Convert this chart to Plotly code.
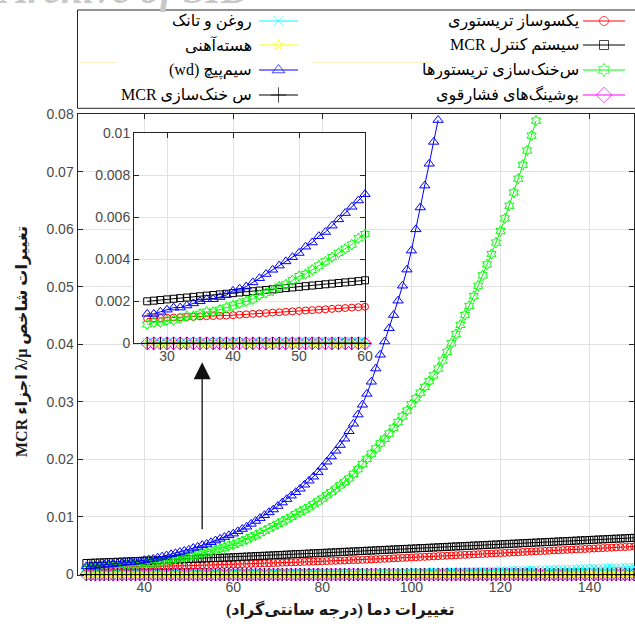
import plotly.graph_objects as go

W, H = 635, 628

# ---------------- data ----------------
temp = list(range(27, 151))  # temperature (deg C)

red = [
    .00118, .00119, .00120, .00122, .00123, .00124, .00125, .00126, .00128, .00129,
    .00130, .00131, .00132, .00134, .00136, .00138, .00140, .00142, .00144, .00146,
    .00148, .00150, .00152, .00154, .00156, .00158, .00160, .00162, .00164, .00166,
    .00168, .00170, .00172, .00174, .00177, .00180, .00182, .00185, .00188, .00191,
    .00194, .00196, .00199, .00202, .00205, .00208, .00210, .00213, .00216, .00219,
    .00222, .00224, .00227, .00230, .00233, .00236, .00238, .00241, .00244, .00247,
    .00250, .00252, .00255, .00258, .00262, .00266, .00269, .00273, .00277, .00281,
    .00285, .00288, .00292, .00296, .00300, .00304, .00307, .00311, .00315, .00319,
    .00323, .00326, .00330, .00334, .00338, .00342, .00345, .00349, .00353, .00357,
    .00361, .00364, .00368, .00372, .00376, .00380, .00383, .00387, .00391, .00395,
    .00399, .00402, .00406, .00410, .00414, .00418, .00421, .00425, .00429, .00433,
    .00437, .00440, .00444, .00448, .00452, .00456, .00459, .00463, .00467, .00471,
    .00475, .00478, .00482, .00486,
]

black_sq = [
    .00200, .00203, .00206, .00209, .00212, .00215, .00218, .00221, .00224, .00227,
    .00230, .00233, .00236, .00239, .00242, .00245, .00248, .00251, .00254, .00257,
    .00260, .00263, .00266, .00269, .00272, .00275, .00278, .00281, .00284, .00287,
    .00290, .00293, .00296, .00300, .00304, .00308, .00311, .00315, .00319, .00323,
    .00326, .00330, .00334, .00338, .00341, .00345, .00349, .00353, .00356, .00360,
    .00364, .00368, .00371, .00375, .00379, .00383, .00386, .00390, .00394, .00398,
    .00401, .00405, .00409, .00413, .00416, .00420, .00424, .00428, .00431, .00435,
    .00439, .00443, .00446, .00450, .00454, .00458, .00461, .00465, .00469, .00473,
    .00476, .00480, .00484, .00488, .00491, .00495, .00499, .00503, .00506, .00510,
    .00514, .00518, .00521, .00525, .00529, .00533, .00536, .00540, .00544, .00548,
    .00551, .00555, .00559, .00563, .00566, .00570, .00574, .00578, .00581, .00585,
    .00589, .00593, .00596, .00600, .00604, .00608, .00611, .00615, .00619, .00623,
    .00626, .00630, .00634, .00638,
]

green = [
    .0009, .0010, .0010, .0011, .0011, .0012, .0013, .0013, .0014, .0015,
    .0015, .0016, .0017, .0018, .0019, .0020, .0021, .0023, .0024, .0025,
    .0027, .0028, .0030, .0032, .0033, .0035, .0037, .0039, .0041, .0043,
    .0045, .0047, .0050, .0052, .0055, .0058, .0061, .0065, .0068, .0072,
    .0076, .0080, .0084, .0088, .0092, .0096, .0100, .0105, .0109, .0113,
    .0117, .0122, .0127, .0132, .0138, .0143, .0149, .0155, .0161, .0167,
    .0175, .0183, .0192, .0201, .0210, .0219, .0228, .0236, .0245, .0255,
    .0265, .0275, .0285, .0296, .0306, .0316, .0326, .0336, .0346, .0358,
    .0372, .0387, .0402, .0418, .0434, .0451, .0467, .0484, .0502, .0520,
    .0539, .0557, .0577, .0597, .0619, .0641, .0664, .0688, .0712, .0737,
    .0763, .0789,
]

magenta = [
    0.0, 0.0, 0.0, 0.0, 0.0, 0.0, 0.0, 0.0, 0.0, 0.0,
    0.0, 0.0, 0.0, 0.0, 0.0, 0.0, 0.0, 0.0, 0.0, 0.0,
    0.0, 0.0, 0.0, 0.0, 0.0, 0.0, 0.0, 0.0, 0.0, 0.0,
    0.0, 0.0, 0.0, 0.0, 0.0, 0.0, 0.0, 0.0, 0.0, 0.0,
    0.0, 0.0, 0.0, 0.0, 0.0, 0.0, 0.0, 0.0, 0.0, 0.0,
    0.0, 0.0, 0.0, 0.0, 0.0, 0.0, 0.0, 0.0, 0.0, 0.0,
    0.0, 0.0, 0.0, 0.0, 0.0, 0.0, 0.0, 0.0, 0.0, 0.0,
    0.0, 0.0, 0.0, 0.0, 0.0, 0.0, 0.0, 0.0, 0.0, 0.0,
    0.0, 0.0, 0.0, 0.0, 0.0, 0.0, 0.0, 0.0, 0.0, 0.0,
    0.0, 0.0, 0.0, 0.0, 0.0, 0.0, 0.0, 0.0, 0.0, 0.0,
    0.0, 0.0, 0.0, 0.0, 0.0, 0.0, 0.0, 0.0, 0.0, 0.0,
    0.0, 0.0, 0.0, 0.0, 0.0, 0.0, 0.0, 0.0, 0.0, 0.0,
    0.0, 0.0, 0.0, 0.0,
]

cyan = [
    .00005, .00005, .00005, .00005, .00005, .00005, .00005, .00006, .00006, .00006,
    .00006, .00006, .00006, .00007, .00007, .00007, .00007, .00007, .00008, .00008,
    .00008, .00008, .00008, .00009, .00009, .00009, .00009, .00010, .00010, .00010,
    .00010, .00011, .00011, .00011, .00012, .00012, .00012, .00013, .00013, .00013,
    .00014, .00014, .00014, .00015, .00015, .00016, .00016, .00017, .00017, .00018,
    .00019, .00019, .00020, .00021, .00021, .00022, .00023, .00024, .00024, .00025,
    .00026, .00027, .00028, .00029, .00030, .00031, .00032, .00033, .00034, .00035,
    .00036, .00037, .00039, .00040, .00041, .00042, .00044, .00045, .00046, .00048,
    .00049, .00050, .00052, .00053, .00055, .00056, .00058, .00059, .00061, .00062,
    .00064, .00066, .00067, .00069, .00071, .00072, .00074, .00076, .00078, .00080,
    .00081, .00083, .00085, .00087, .00089, .00091, .00093, .00095, .00097, .00099,
    .00101, .00104, .00106, .00108, .00110, .00112, .00115, .00117, .00119, .00122,
    .00124, .00126, .00129, .00131,
]

yellow = [
    .00001, .00001, .00001, .00001, .00001, .00001, .00001, .00001, .00001, .00001,
    .00001, .00001, .00001, .00001, .00001, .00001, .00001, .00001, .00001, .00001,
    .00001, .00001, .00001, .00001, .00001, .00001, .00001, .00001, .00001, .00001,
    .00001, .00001, .00001, .00001, .00001, .00001, .00001, .00001, .00001, .00001,
    .00001, .00001, .00001, .00001, .00001, .00001, .00001, .00001, .00001, .00001,
    .00001, .00001, .00001, .00001, .00001, .00001, .00001, .00001, .00001, .00001,
    .00002, .00002, .00002, .00002, .00002, .00002, .00002, .00002, .00002, .00002,
    .00002, .00002, .00002, .00002, .00002, .00002, .00002, .00002, .00002, .00002,
    .00002, .00002, .00002, .00002, .00002, .00002, .00002, .00002, .00002, .00002,
    .00002, .00002, .00002, .00002, .00002, .00002, .00002, .00002, .00002, .00002,
    .00003, .00003, .00003, .00003, .00003, .00003, .00003, .00003, .00003, .00003,
    .00003, .00003, .00003, .00003, .00003, .00003, .00003, .00003, .00003, .00003,
    .00003, .00003, .00003, .00003,
]

blue = [
    .0014, .0014, .0015, .0016, .0017, .0017, .0018, .0019, .0020, .0021,
    .0021, .0022, .0023, .0025, .0026, .0027, .0029, .0031, .0033, .0035,
    .0037, .0039, .0041, .0043, .0046, .0048, .0051, .0053, .0056, .0059,
    .0062, .0065, .0068, .0071, .0075, .0079, .0083, .0088, .0093, .0098,
    .0103, .0108, .0113, .0119, .0125, .0131, .0137, .0143, .0149, .0156,
    .0163, .0170, .0178, .0187, .0196, .0205, .0215, .0225, .0236, .0249,
    .0262, .0278, .0295, .0314, .0335, .0358, .0382, .0405, .0428, .0451,
    .0476, .0502, .0530, .0563, .0600, .0638, .0676, .0714, .0752, .0790,
]

black_plus = [
    0.0, 0.0, 0.0, 0.0, 0.0, 0.0, 0.0, 0.0, 0.0, 0.0,
    0.0, 0.0, 0.0, 0.0, 0.0, 0.0, 0.0, 0.0, 0.0, 0.0,
    0.0, 0.0, 0.0, 0.0, 0.0, 0.0, 0.0, 0.0, 0.0, 0.0,
    0.0, 0.0, 0.0, 0.0, 0.0, 0.0, 0.0, 0.0, 0.0, 0.0,
    0.0, 0.0, 0.0, 0.0, 0.0, 0.0, 0.0, 0.0, 0.0, 0.0,
    0.0, 0.0, 0.0, 0.0, 0.0, 0.0, 0.0, 0.0, 0.0, 0.0,
    0.0, 0.0, 0.0, 0.0, 0.0, 0.0, 0.0, 0.0, 0.0, 0.0,
    0.0, 0.0, 0.0, 0.0, 0.0, 0.0, 0.0, 0.0, 0.0, 0.0,
    0.0, 0.0, 0.0, 0.0, 0.0, 0.0, 0.0, 0.0, 0.0, 0.0,
    0.0, 0.0, 0.0, 0.0, 0.0, 0.0, 0.0, 0.0, 0.0, 0.0,
    0.0, 0.0, 0.0, 0.0, 0.0, 0.0, 0.0, 0.0, 0.0, 0.0,
    0.0, 0.0, 0.0, 0.0, 0.0, 0.0, 0.0, 0.0, 0.0, 0.0,
    0.0, 0.0, 0.0, 0.0,
]

series_names = [
    "یکسوساز تریستوری",
    "سیستم کنترل MCR",
    "س‌خنک‌سازی تریستورها",
    "بوشینگ‌های فشارقوی",
    "روغن و تانک",
    "هسته‌آهنی",
    "سیم‌پیچ (wd)",
    "س خنک‌سازی MCR",
]
series_values = [red, black_sq, green, magenta, cyan, yellow, blue, black_plus]

x_ticks_main = [40, 60, 80, 100, 120, 140]
x_ticks_inset = [30, 40, 50, 60]
inset_max_temp = 60

x_title = "تغییرات دما (درجه سانتی‌گراد)"
y_title = "تغییرات شاخص λ/μ اجزاء MCR"

# ---------------- styles ----------------
colors = ["#ff0000", "#000000", "#00ff00", "#ff00ff", "#00ffff", "#ffff00", "#0000ff", "#000000"]
symbols = ["circle-open", "square-open", "hexagram-open", "diamond-open",
           "x-thin-open", "star-open", "triangle-up-open", "cross-thin-open"]
sizes = [7, 7, 8, 10, 8, 6, 9, 9]

RLE, PDF = "\u202b", "\u202c"
def rtl(s):
    return RLE + s + PDF

AX = "#262626"
TICKFONT = dict(family="Liberation Sans, Arial, sans-serif", size=14, color="#4a4a4a")
TEXTFONT = "Liberation Serif, DejaVu Sans, serif"
GRID = "#e2e2e2"

fig = go.Figure()

def add_series(xa, ya, xs, ys, i):
    c = colors[i]
    fig.add_trace(go.Scatter(
        x=xs, y=ys, xaxis=xa, yaxis=ya, mode="lines+markers",
        line=dict(color=c, width=1),
        marker=dict(symbol=symbols[i], size=sizes[i], color=c, line=dict(color=c, width=1)),
        cliponaxis=False, showlegend=False, hoverinfo="skip"))

# main plot
for i, vals in enumerate(series_values):
    add_series("x", "y", temp[:len(vals)], vals, i)

# inset plot (zoom on the start of the range)
n_in = temp.index(inset_max_temp) + 1
for i, vals in enumerate(series_values):
    add_series("x2", "y2", temp[:n_in], vals[:n_in], i)

# ---------------- legend (drawn manually, RTL layout) ----------------
def py(p):  # pixel y -> paper
    return 1 - p / H

def px(p):
    return p / W

leg_rows = [21, 45, 70, 95]
leg_cols = [(583, 625, 581), (259, 298, 254)]  # line x0, x1, text right edge
for i, name in enumerate(series_names):
    col, row = divmod(i, 4)
    x0, x1, xt = leg_cols[col]
    r = leg_rows[row]
    c = colors[i]
    fig.add_trace(go.Scatter(
        x=[x0, (x0 + x1) / 2, x1], y=[r, r, r], xaxis="x3", yaxis="y3",
        mode="lines+markers", line=dict(color=c, width=1),
        marker=dict(symbol=symbols[i], size=[0, sizes[i] + 2, 0], color=c, line=dict(color=c, width=1)),
        cliponaxis=False, showlegend=False, hoverinfo="skip"))
    fig.add_annotation(x=xt, y=r, xref="x3", yref="y3", text=rtl(name), showarrow=False,
                       xanchor="right", yanchor="middle",
                       font=dict(family=TEXTFONT, size=16, color="#000000"))

shapes = [
    dict(type="rect", xref="paper", yref="paper", x0=px(77.5), x1=1.01, y0=py(108.3), y1=py(10),
         line=dict(color=AX, width=1), fillcolor="rgba(0,0,0,0)", layer="above"),
    dict(type="line", xref="x3", yref="y3", x0=80, x1=117, y0=62.7, y1=62.7,
         line=dict(color="#f7f1c8", width=1.2)),
    dict(type="line", xref="x3", yref="y3", x0=312, x1=433, y0=62.7, y1=62.7,
         line=dict(color="#f7f1c8", width=1.2)),
]

# titles
fig.add_annotation(x=px(340), y=py(609), xref="paper", yref="paper",
                   text="<b>" + rtl(x_title) + "</b>", showarrow=False,
                   xanchor="center", yanchor="middle",
                   font=dict(family=TEXTFONT, size=16, color="#1a1a1a"))
fig.add_annotation(x=px(22), y=py(342), xref="paper", yref="paper",
                   text="<b>" + rtl(y_title) + "</b>", showarrow=False, textangle=-90,
                   xanchor="center", yanchor="middle",
                   font=dict(family=TEXTFONT, size=16, color="#1a1a1a"))

# watermark (partly cut off at the top, as in the source)
fig.add_annotation(x=px(-4), y=py(14), xref="paper", yref="paper", text="<i><b>Archive of SID</b></i>",
                   showarrow=False, xanchor="left", yanchor="bottom",
                   font=dict(family="Liberation Serif, serif", size=40, color="#c8c8c8"))

# arrow pointing to inset
fig.add_annotation(x=53, y=0.0369, ax=53, ay=0.0076, xref="x", yref="y", axref="x", ayref="y",
                   text="", showarrow=True, arrowhead=2, arrowsize=2.6, arrowwidth=1.3,
                   arrowcolor="#111111")

axis_common = dict(ticks="inside", ticklen=5, tickcolor=AX, mirror="ticks", showline=True,
                   linecolor=AX, linewidth=1, showgrid=True, gridcolor=GRID, gridwidth=1,
                   zeroline=False, tickfont=TICKFONT, layer="below traces", fixedrange=True)

fig.update_layout(
    width=W, height=H, margin=dict(l=0, r=0, t=0, b=0, autoexpand=False),
    paper_bgcolor="white", plot_bgcolor="white", showlegend=False,
    xaxis=dict(domain=[px(77.5), px(634)], range=[25, 150], tickvals=x_ticks_main,
               anchor="y", **axis_common),
    yaxis=dict(domain=[py(574.5), py(114.3)], range=[0, 0.08], dtick=0.01, tick0=0,
               anchor="x", **axis_common),
    xaxis2=dict(domain=[px(134), px(365)], range=[25, 60], tickvals=x_ticks_inset,
                anchor="y2", **axis_common),
    yaxis2=dict(domain=[py(343.3), py(133.3)], range=[0, 0.01], dtick=0.002, tick0=0,
                anchor="x2", **axis_common),
    xaxis3=dict(domain=[px(78), 1], range=[78, 635], visible=False, anchor="y3", fixedrange=True),
    yaxis3=dict(domain=[py(108), py(11)], range=[108, 11], visible=False, anchor="x3", fixedrange=True),
    shapes=shapes,
)

fig.write_html("out.html", config={"displayModeBar": False},
               post_script="document.body.style.margin='0';document.body.style.overflow='hidden';")
